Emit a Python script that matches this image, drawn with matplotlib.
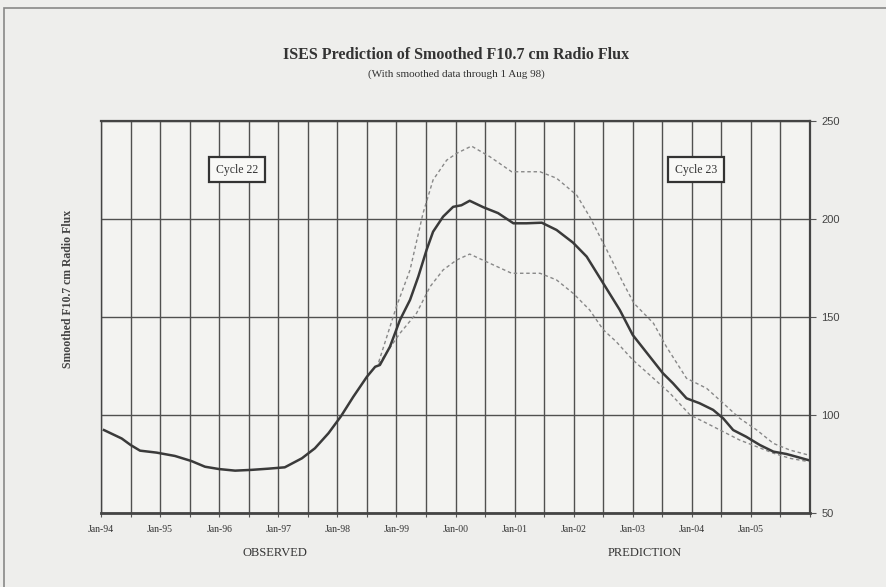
"""ISES prediction of smoothed F10.7 cm radio flux, cycle 22/23 (scan look-alike)."""
import matplotlib
matplotlib.use("Agg")
import matplotlib.pyplot as plt
import matplotlib.patches as mpatches

# smoothed flux (observed + predicted), decimal years
flux_year = [1994.05, 1994.35, 1994.5, 1994.66, 1994.94, 1995.25, 1995.53, 1995.76,
             1996.0, 1996.27, 1996.55, 1996.83, 1997.11, 1997.4, 1997.62, 1997.85,
             1998.06, 1998.27, 1998.5, 1998.64, 1998.72, 1998.89, 1999.06, 1999.23,
             1999.37, 1999.51, 1999.62, 1999.79, 1999.96, 2000.1, 2000.24, 2000.47,
             2000.72, 2000.98, 2001.2, 2001.46, 2001.71, 2001.99, 2002.22, 2002.5,
             2002.78, 2003.0, 2003.29, 2003.51, 2003.68, 2003.91, 2004.13, 2004.36,
             2004.53, 2004.7, 2004.92, 2005.15, 2005.38, 2005.6, 2005.77, 2005.97]
flux = [92.3, 88.0, 84.7, 81.8, 80.8, 79.1, 76.5, 73.6,
        72.4, 71.6, 72.0, 72.6, 73.3, 77.9, 83.0, 90.7,
        99.3, 109.3, 119.5, 124.6, 125.5, 134.8, 148.5, 158.7,
        170.6, 184.2, 193.5, 201.2, 206.2, 207.0, 209.3, 206.0,
        203.0, 197.8, 197.8, 198.1, 194.4, 187.9, 180.8, 167.2,
        153.6, 140.8, 129.7, 121.3, 116.2, 108.5, 106.0, 102.6,
        98.3, 92.3, 88.9, 84.7, 81.3, 80.1, 78.7, 77.0]

# upper / lower prediction bounds
upper_year = [1998.7, 1999.0, 1999.23, 1999.45, 1999.62, 1999.85, 2000.02, 2000.27,
              2000.58, 2000.95, 2001.43, 2001.71, 2002.05, 2002.27, 2002.56, 2002.84,
              2003.02, 2003.35, 2003.57, 2003.91, 2004.25, 2004.53, 2004.81, 2005.1,
              2005.38, 2005.66, 2005.97]
upper = [127.0, 155.3, 174.0, 202.9, 219.9, 230.0, 233.5, 237.2,
         231.8, 224.1, 224.1, 220.8, 212.2, 201.2, 184.2, 167.2,
         157.0, 146.8, 134.8, 118.7, 113.6, 106.0, 98.3, 92.3,
         85.5, 82.1, 79.6]
lower_year = [1998.7, 1999.06, 1999.34, 1999.57, 1999.79, 2000.02, 2000.24, 2000.58,
              2000.95, 2001.43, 2001.71, 2001.99, 2002.27, 2002.5, 2002.72, 2003.0,
              2003.35, 2003.63, 2003.97, 2004.25, 2004.53, 2004.81, 2005.1, 2005.38,
              2005.66, 2005.97]
lower = [126.0, 141.7, 151.9, 165.5, 174.0, 179.1, 182.1, 177.4,
         172.3, 172.3, 168.9, 162.1, 153.6, 143.5, 137.4, 128.1,
         118.7, 111.1, 100.0, 95.8, 91.5, 87.2, 83.8, 80.5,
         77.9, 76.2]

tick_years = list(range(1994, 2006))
tick_labels = [f"Jan-{y % 100:02d}" for y in tick_years]
cycle_labels = [("Cycle 22", 1996.3, 225), ("Cycle 23", 2004.07, 225)]

SERIF = ["Liberation Serif", "DejaVu Serif"]
SANS = ["Liberation Sans", "DejaVu Sans"]
INK = "#333333"
PAPER = "#eeeeec"

fig = plt.figure(figsize=(8.87, 5.87), dpi=100, facecolor=PAPER)
ax = fig.add_axes([0.1139, 0.1261, 0.7993, 0.6678], facecolor="#f3f3f1")

ax.set_xlim(1994, 2006)
ax.set_ylim(50, 250)

# grid: half-year verticals, 50-unit horizontals
half_years = [1994 + 0.5 * i for i in range(25)]
ax.set_xticks(half_years, minor=True)
ax.set_xticks(tick_years)
ax.set_xticklabels(tick_labels, family=SERIF, fontsize=7, color=INK)
ax.grid(True, which="both", axis="x", color="#505050", linewidth=1.0)
ax.grid(True, which="major", axis="y", color="#505050", linewidth=1.0)
ax.tick_params(axis="x", which="both", length=3, width=0.8, color="#555555",
               direction="out", pad=6)

ax.yaxis.tick_right()
ax.set_yticks([50, 100, 150, 200, 250])
ax.set_yticklabels(["50", "100", "150", "200", "250"], family=SANS,
                   fontsize=8, color="#444444")
ax.tick_params(axis="y", length=4, width=0.8, color="#555555", pad=4)

for side, sp in ax.spines.items():
    sp.set_color("#444444")
    sp.set_linewidth(1.0)
ax.spines["bottom"].set_linewidth(2.0)
ax.spines["top"].set_linewidth(1.6)
ax.spines["right"].set_linewidth(1.6)

ax.plot(upper_year, upper, color="#888888", linewidth=1.0, linestyle=(0, (2.5, 2)))
ax.plot(lower_year, lower, color="#888888", linewidth=1.0, linestyle=(0, (2.5, 2)))
ax.plot(flux_year, flux, color="#3a3a3a", linewidth=1.8, solid_joinstyle="round")

for label, x, y in cycle_labels:
    ax.text(x, y, label, family=SERIF, fontsize=8.5, color=INK, ha="center", va="center",
            bbox=dict(boxstyle="square,pad=0.55", facecolor="#f8f8f6",
                      edgecolor="#333333", linewidth=1.6))

fig.text(0.514, 0.906, "ISES Prediction of Smoothed F10.7 cm Radio Flux",
         family=SERIF, fontsize=11.5, weight="bold", color=INK, ha="center", va="center")
fig.text(0.514, 0.874, "(With smoothed data through 1 Aug 98)",
         family=SERIF, fontsize=8, color=INK, ha="center", va="center")
fig.text(0.077, 0.508, "Smoothed F10.7 cm Radio Flux", family=SERIF, fontsize=8.5,
         weight="bold", color="#444444", rotation=90, ha="center", va="center")
fig.text(0.31, 0.058, "OBSERVED", family=SERIF, fontsize=9, color=INK,
         ha="center", va="center")
fig.text(0.727, 0.058, "PREDICTION", family=SERIF, fontsize=9, color=INK,
         ha="center", va="center")

# outer chart frame (left and top edges show in the scan)
fig.add_artist(mpatches.Rectangle((0.004, -0.02), 1.02, 1.006, transform=fig.transFigure,
                                  fill=False, edgecolor="#888888", linewidth=1.2))

fig.savefig("out.png", dpi=100, facecolor=PAPER)
